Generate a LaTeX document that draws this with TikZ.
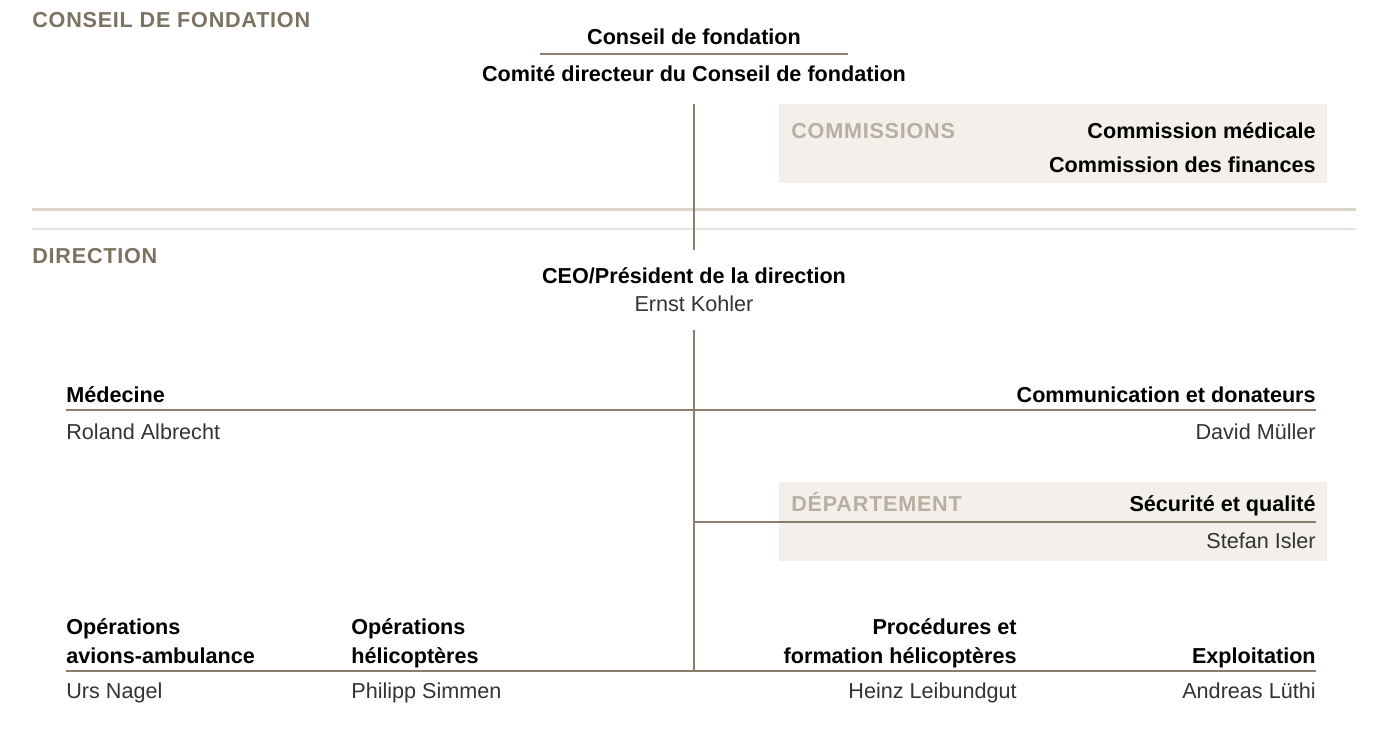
\documentclass[tikz,border=0pt]{standalone}
\usepackage{fontspec}
\setmainfont{Liberation Sans}
\definecolor{headbrown}{HTML}{7B7262}
\definecolor{rulebrown}{HTML}{8A7D6A}
\definecolor{boxfill}{HTML}{F3F0EB}
\definecolor{boxhead}{HTML}{B8AFA0}
\definecolor{barone}{HTML}{D9D3C8}
\definecolor{bartwo}{HTML}{E8E4DD}
\definecolor{nametext}{HTML}{333333}
\tikzset{
	sect/.style={font=\bfseries\fontsize{12.3}{14}\selectfont\addfontfeature{LetterSpace=3.5}, text=headbrown, inner sep=0pt},
	boxsect/.style={sect, text=boxhead},
	unit/.style={font=\bfseries\fontsize{12.3}{14}\selectfont, inner sep=0pt},
	person/.style={font=\fontsize{12.3}{14}\selectfont, text=nametext, inner sep=0pt},
	rule/.style={draw=rulebrown, line width=0.7pt},
	panel/.style={fill=boxfill, draw=none}
}
\begin{document}
\begin{tikzpicture}[x=0.02cm, y=-0.02cm]
	\useasboundingbox (0,0) rectangle (1373,745);
	\fill[panel] (779,104) rectangle (1327,183);
	\fill[panel] (779,482) rectangle (1327,561);
	\draw[barone, line width=1.7pt] (32,209) -- (1356,209);
	\draw[bartwo, line width=1.1pt] (32,229) -- (1356,229);
	\node[sect, anchor=base west] (S1) at (32,27) {CONSEIL DE FONDATION};
	\node[unit, anchor=base] (CF) at (694,44) {Conseil de fondation};
	\node[unit, anchor=base] (CD) at (694,81) {Comité directeur du Conseil de fondation};
	\node[boxsect, anchor=base west] (K0) at (791,138) {COMMISSIONS};
	\node[unit, anchor=base east] (K1) at (1316,138) {Commission médicale};
	\node[unit, anchor=base east] (K2) at (1316,172) {Commission des finances};
	\node[sect, anchor=base west] (S2) at (32,263) {DIRECTION};
	\node[unit, anchor=base] (CEO) at (694,283) {CEO/Président de la direction};
	\node[person, anchor=base] (CEOn) at (694,311) {Ernst Kohler};
	\node[unit, anchor=base west] (M1) at (66,402) {Médecine};
	\node[person, anchor=base west] (M2) at (66,439) {Roland Albrecht};
	\node[unit, anchor=base east] (C1) at (1316,402) {Communication et donateurs};
	\node[person, anchor=base east] (C2) at (1316,439) {David Müller};
	\node[boxsect, anchor=base west] (D0) at (791,511) {DÉPARTEMENT};
	\node[unit, anchor=base east] (D1) at (1316,511) {Sécurité et qualité};
	\node[person, anchor=base east] (D2) at (1316,548) {Stefan Isler};
	\node[unit, anchor=base west, align=left] (A1) at (66,663) {Opérations\\[2pt]avions-ambulance};
	\node[person, anchor=base west] (A2) at (66,698) {Urs Nagel};
	\node[unit, anchor=base west, align=left] (H1) at (351,663) {Opérations\\[2pt]hélicoptères};
	\node[person, anchor=base west] (H2) at (351,698) {Philipp Simmen};
	\node[unit, anchor=base east, align=right] (P1) at (1017,663) {Procédures et\\[2pt]formation hélicoptères};
	\node[person, anchor=base east] (P2) at (1017,698) {Heinz Leibundgut};
	\node[unit, anchor=base east] (E1) at (1316,663) {Exploitation};
	\node[person, anchor=base east] (E2) at (1316,698) {Andreas Lüthi};
	\coordinate (cfl) at (540,54);
	\coordinate (cfr) at (848,54);
	\coordinate (t1) at (694,104);
	\coordinate (t2) at (694,250);
	\coordinate (t3) at (694,330);
	\coordinate (t4) at (694,671);
	\coordinate (ml) at (66,410);
	\coordinate (mr) at (1316,410);
	\coordinate (dl) at (694,522);
	\coordinate (dr) at (1316,522);
	\coordinate (bl) at (66,671);
	\coordinate (br) at (1316,671);
	\draw[rule] (cfl) -- (cfr);
	\draw[rule] (t1) -- (t2);
	\draw[rule] (t3) -- (t4);
	\draw[rule] (ml) -- (mr);
	\draw[rule] (dl) -- (dr);
	\draw[rule] (bl) -- (br);
\end{tikzpicture}
\end{document}
